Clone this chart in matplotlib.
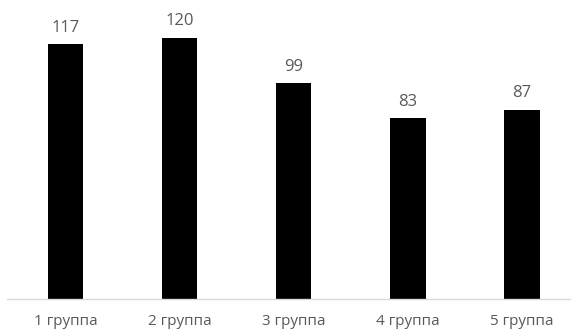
import matplotlib.pyplot as plt

categories = ["1 группа", "2 группа", "3 группа", "4 группа", "5 группа"]
values = [117, 120, 99, 83, 87]

W, H = 571, 331
fig = plt.figure(figsize=(W / 100, H / 100), dpi=100)
fig.patch.set_facecolor("white")

# axes spans from the left end of the baseline to the right end
ax = fig.add_axes([7 / W, 32 / H, 563 / W, 283 / H])
x = range(len(categories))
bars = ax.bar(x, values, width=0.31, color="black", zorder=2)

ax.set_xlim(-0.513, 4.42)
ax.set_ylim(0, 130)

for spine in ["top", "right", "left"]:
    ax.spines[spine].set_visible(False)
ax.spines["bottom"].set_color("#d9d9d9")
ax.spines["bottom"].set_linewidth(1.0)

ax.set_yticks([])
ax.set_xticks(list(x))
ax.set_xticklabels(categories, fontsize=11, color="#595959", family="Open Sans")
ax.tick_params(axis="x", length=0, pad=11)

for b, v in zip(bars, values):
    ax.annotate(str(v), (b.get_x() + b.get_width() / 2, v), xytext=(0, 6),
                textcoords="offset points", ha="center", va="bottom",
                fontsize=12, color="#595959", family="Open Sans")

fig.savefig("out.png", dpi=100)
